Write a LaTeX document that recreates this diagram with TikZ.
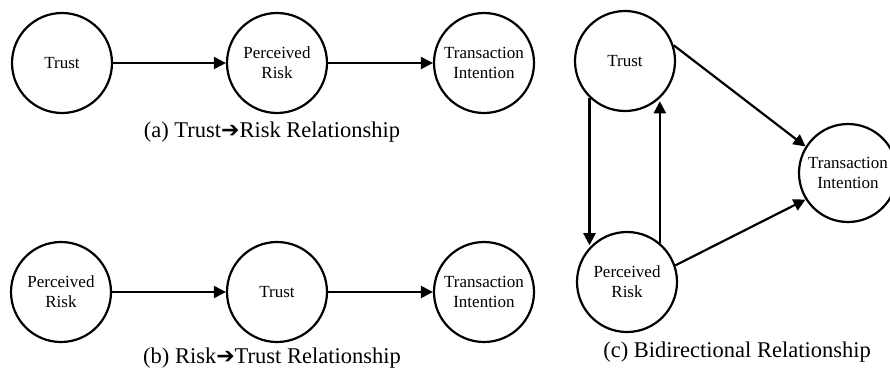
\documentclass[tikz,border=0pt]{standalone}
\usepackage{fontspec}
\setmainfont{Liberation Serif}
\newfontfamily\symfont{DejaVu Sans}
\usetikzlibrary{arrows.meta}
\tikzset{
  circ/.style={circle, draw=black, line width=2.2pt, minimum size=100pt, inner sep=0pt,
    align=center, font=\fontsize{17}{20}\selectfont},
  conn/.style={line width=2.2pt, -{Triangle[length=12pt,width=12pt]}},
  captext/.style={font=\fontsize{22.5}{26}\selectfont, inner sep=0pt, anchor=base}
}
\newcommand{\capArrow}{{\symfont\fontsize{22}{26}\selectfont ➔}}
\begin{document}
\begin{tikzpicture}[x=1pt,y=-1pt]
\useasboundingbox (0,0) rectangle (890,370);
\clip (0,0) rectangle (890,370);
\fill[white] (0,0) rectangle (890,370);
% (a)
\node[circ] (aT) at (62,63) {Trust};
\node[circ] (aR) at (277,63) {Perceived\\Risk};
\node[circ] (aI) at (484,63) {Transaction\\Intention};
\draw[conn] (aT) -- (aR);
\draw[conn] (aR) -- (aI);
\node[captext] (acap) at (272,137) {(a) Trust\capArrow Risk Relationship};
% (b)
\node[circ] (bR) at (61,292) {Perceived\\Risk};
\node[circ] (bT) at (277,292) {Trust};
\node[circ] (bI) at (484,292) {Transaction\\Intention};
\draw[conn] (bR) -- (bT);
\draw[conn] (bT) -- (bI);
\node[captext] (bcap) at (272,363) {(b) Risk\capArrow Trust Relationship};
% (c)
\node[circ] (cT) at (625,61) {Trust};
\node[circ] (cR) at (627,282) {Perceived\\Risk};
\node[circ, minimum size=98pt] (cI) at (848,173) {Transaction\\Intention};
\draw[conn] (cT.-134) -- (cT.-134 |- cR.134);
\draw[conn] (cR.50) -- (cR.50 |- cT.-52);
\draw[conn] (cT.18) -- (cI.148);
\draw[conn] (cR.19) -- (cI.212);
\node[captext] (ccap) at (737,357) {(c) Bidirectional Relationship};
\end{tikzpicture}
\end{document}
